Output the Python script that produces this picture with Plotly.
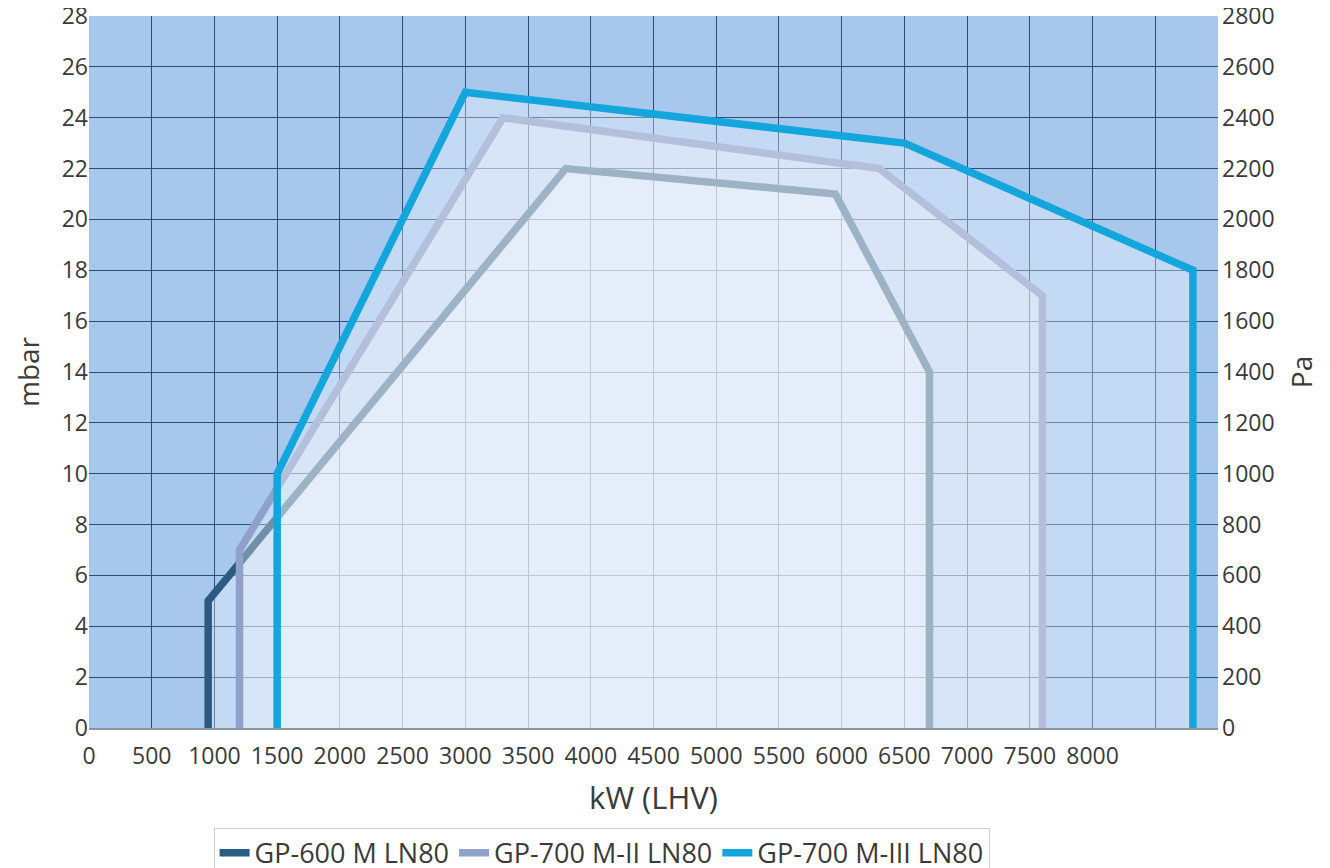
import plotly.graph_objects as go

# burner working fields, kW (LHV) vs mbar
names = ["GP-600 M LN80", "GP-700 M-II LN80", "GP-700 M-III LN80"]
colors = ["#2b5a82", "#8fa1cb", "#12a6dc"]

gp600_kw = [950, 950, 3800, 5950, 6700, 6700]
gp600_mbar = [0, 5, 22, 21, 14, 0]

gp700m2_kw = [1200, 1200, 3300, 6300, 7600, 7600]
gp700m2_mbar = [0, 7, 24, 22, 17, 0]

gp700m3_kw = [1500, 1500, 3000, 6500, 8800, 8800]
gp700m3_mbar = [0, 10, 25, 23, 18, 0]

x_ticks = list(range(0, 9001, 500))
x_labels = [str(v) if v <= 8000 else "" for v in x_ticks]
mbar_ticks = list(range(0, 29, 2))
pa_ticks = list(range(0, 2801, 200))

series = [(gp600_kw, gp600_mbar), (gp700m2_kw, gp700m2_mbar), (gp700m3_kw, gp700m3_mbar)]

FONT = "Open Sans, Noto Sans, sans-serif"
TXT = "#3a3a3a"

fig = go.Figure()

for (xs, ys), name, col in zip(series, names, colors):
    # white-ish veil: lightens whatever is beneath it
    fig.add_trace(go.Scatter(
        x=xs, y=ys, mode="lines", fill="toself",
        fillcolor="rgba(255,255,255,0.32)",
        line=dict(width=0), showlegend=False, hoverinfo="skip",
    ))
    fig.add_trace(go.Scatter(
        x=xs, y=ys, mode="lines", name=name,
        line=dict(color=col, width=7.5),
    ))

# invisible trace so the Pa axis is drawn
fig.add_trace(go.Scatter(
    x=[0, 0], y=[0, 2800], yaxis="y2", mode="markers",
    marker=dict(opacity=0), showlegend=False, hoverinfo="skip",
))

# page body has an 8px margin, so the figure is 8px smaller each way
fig.update_layout(
    width=1322, height=860,
    margin=dict(l=81, r=112, t=8, b=140, autoexpand=False),
    paper_bgcolor="white",
    plot_bgcolor="#a8c7ed",
    font=dict(family=FONT, size=23, color=TXT),
    xaxis=dict(
        range=[0, 9000], tickvals=x_ticks, ticktext=x_labels,
        showgrid=True, gridcolor="#2e4d72", gridwidth=1,
        zeroline=False, showline=True, linecolor="#8795a3", linewidth=2,
        ticks="", tickfont=dict(size=23), automargin=False,
        ticklabelstandoff=6, ticklabeloverflow="allow",
        title=dict(text="kW (LHV)", font=dict(size=31), standoff=18),
    ),
    yaxis=dict(
        range=[0, 28], tickvals=mbar_ticks, automargin=False,
        showgrid=True, gridcolor="#2e4d72", gridwidth=1,
        zeroline=False, ticks="", ticklabeloverflow="allow",
        title=dict(text="mbar", font=dict(size=28), standoff=13),
    ),
    yaxis2=dict(
        range=[0, 2800], tickvals=pa_ticks, overlaying="y", side="right",
        showgrid=False, zeroline=False, ticks="", automargin=False,
        ticklabelstandoff=3, ticklabeloverflow="allow",
        title=dict(text="Pa", font=dict(size=28), standoff=18),
    ),
    legend=dict(
        orientation="h", x=0.454, xanchor="center", y=-0.14, yanchor="top",
        bordercolor="#cccccc", borderwidth=1, bgcolor="white",
        font=dict(size=27, color=TXT), itemwidth=30,
    ),
)

fig.write_html("out.html")
